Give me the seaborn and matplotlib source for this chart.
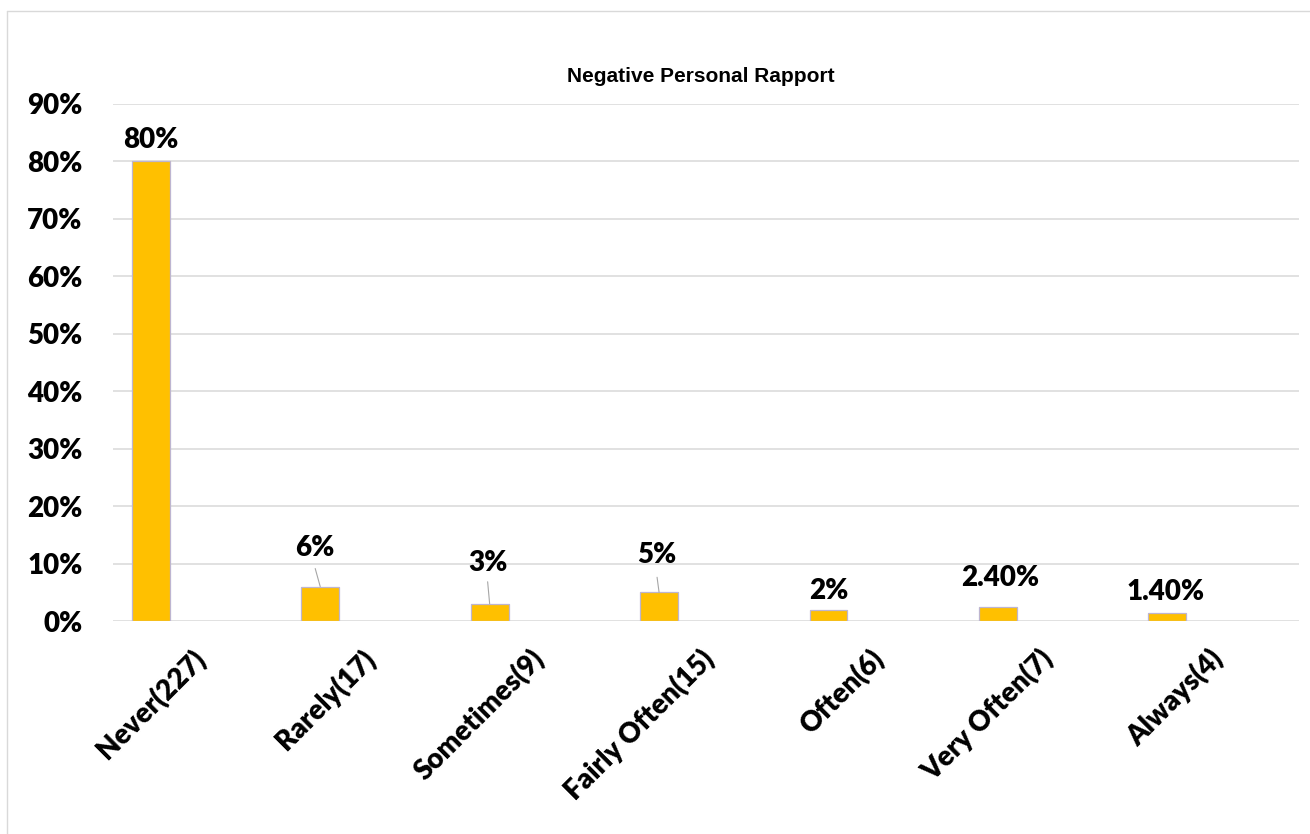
import numpy as np
import pandas as pd
import matplotlib
matplotlib.use("Agg")
import matplotlib.pyplot as plt
from matplotlib import font_manager as fm
from matplotlib.lines import Line2D
import seaborn as sns

# ---- data ----
categories = ["Never(227)", "Rarely(17)", "Sometimes(9)", "Fairly Often(15)",
              "Often(6)", "Very Often(7)", "Always(4)"]
shares = [80, 6, 3, 5, 2, 2.4, 1.4]
value_labels = ["80%", "6%", "3%", "5%", "2%", "2.40%", "1.40%"]
y_ticks = [0, 10, 20, 30, 40, 50, 60, 70, 80, 90]
y_tick_labels = [f"{t}%" for t in y_ticks]
title = "Negative Personal Rapport"

# ---- label placement: pixel offsets from each bar top (dx, baseline dy, leader end) ----
label_offsets = [(0, 13, None), (-5, 31, (-5, 18)), (-2, 33, (-2, 22)),
                 (-2, 29, (-2, 15)), (0, 11, None), (2, 21, None), (-2, 13, None)]


def first_bold_family(candidates):
    for fam in candidates:
        path = fm.findfont(fm.FontProperties(family=fam, weight="bold"),
                           fallback_to_default=False)
        if "bold" in path.lower() or "black" in path.lower() or "heavy" in path.lower():
            return fam
    return "DejaVu Sans"


sns.set_theme(style="white")
label_family = first_bold_family(["Lato", "Open Sans", "Roboto", "Noto Sans", "Liberation Sans"])
plt.rcParams["font.family"] = [label_family, "DejaVu Sans"]
LABEL_WEIGHT = "heavy"

W, H = 1310, 834
fig = plt.figure(figsize=(W / 100, H / 100), dpi=100)
ax = fig.add_axes([113 / W, 1 - 621 / H, (1299 - 113) / W, (621 - 104) / H])

df = pd.DataFrame({"category": categories, "share": shares})
sns.barplot(data=df, x="category", y="share", color="#FFC000", saturation=1,
            width=0.224, edgecolor="#BDB5D0", linewidth=0.9, ax=ax, zorder=3)

# bars sit left of the category slot centre
slot_shift = 0.277
label_shift = 0.30
n = len(categories)
ax.set_xlim(-0.5 + slot_shift, n - 0.5 + slot_shift)
ax.set_ylim(0, 90)

ax.set_yticks(y_ticks, labels=y_tick_labels, fontsize=20, fontweight=LABEL_WEIGHT)
ax.set_xticks(np.arange(n) + label_shift, labels=categories, fontsize=20,
              fontweight=LABEL_WEIGHT, rotation=45, ha="right", va="center",
              rotation_mode="anchor")
ax.tick_params(axis="both", length=0, colors="black")
ax.tick_params(axis="y", pad=22)
ax.tick_params(axis="x", pad=24)
ax.yaxis.grid(True, color="#D9D9D9", linewidth=1.1)
ax.xaxis.grid(False)
ax.set_axisbelow(True)
for s in ax.spines.values():
    s.set_visible(False)
ax.set_xlabel("")
ax.set_ylabel("")

for i, (v, lab, (dx, dy, lead)) in enumerate(zip(shares, value_labels, label_offsets)):
    ax.annotate(lab, xy=(i, v), xytext=(dx, dy), textcoords="offset pixels",
                ha="center", va="baseline", fontsize=20, fontweight=LABEL_WEIGHT,
                color="black", zorder=5)
    if lead is not None:
        ax.annotate("", xy=(i, v), xytext=lead, textcoords="offset pixels",
                    arrowprops=dict(arrowstyle="-", color="#A6A6A6", lw=0.8,
                                    shrinkA=0, shrinkB=0), zorder=4)

fig.text(701 / W, 1 - 81.5 / H, title, ha="center", va="baseline",
         fontsize=15, fontweight="bold", family="Liberation Sans", color="black")

# chart-area frame (left and top edges)
fig.add_artist(Line2D([7 / W, 7 / W], [0, 1 - 11 / H], transform=fig.transFigure,
                      color="#D9D9D9", linewidth=1))
fig.add_artist(Line2D([7 / W, 1], [1 - 11 / H, 1 - 11 / H], transform=fig.transFigure,
                      color="#D9D9D9", linewidth=1))

fig.savefig("out.png", dpi=100)
